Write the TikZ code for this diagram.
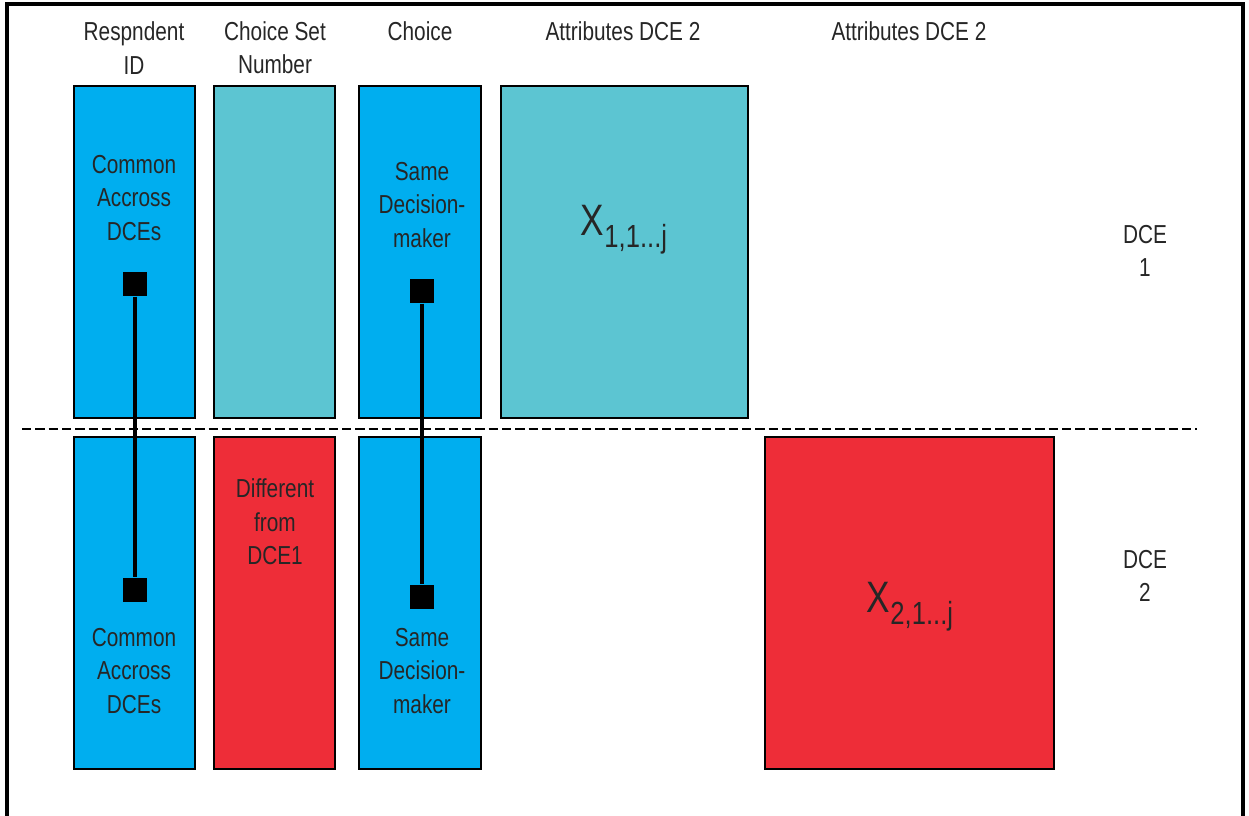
\documentclass[tikz,border=0pt]{standalone}
\usepackage{fontspec}
\setmainfont{Liberation Sans}[FakeStretch=0.8]

\definecolor{dceblue}{RGB}{0,174,239}
\definecolor{dceteal}{RGB}{92,197,210}
\definecolor{dcered}{RGB}{238,45,56}

\tikzset{
    col/.style={draw=black, line width=1.2pt},
    lbl/.style={align=center, inner sep=0pt, font=\fontsize{19.5}{25}\selectfont, text=black!85},
    sq/.style={fill=black, draw=none, minimum size=18.5pt, inner sep=0pt},
    link/.style={line width=2.8pt}
}

\begin{document}
\begin{tikzpicture}[x=0.75pt, y=-0.75pt]
    \useasboundingbox (0,0) rectangle (1249,816);

    % Outer frame, open at the bottom
    \draw[line width=2.6pt] (7,816) -- (7,4) -- (1243,4) -- (1243,816);

    % Column headings
    \node[lbl] (hrid) at (134,48) {Respndent\\ID};
    \node[lbl] (hset) at (275,48) {Choice Set\\Number};
    \node[lbl] (hchoice) at (420,31) {Choice};
    \node[lbl] (hattr1) at (623,31) {Attributes DCE 2};
    \node[lbl] (hattr2) at (909,31) {Attributes DCE 2};

    % DCE 1 (upper row)
    \filldraw[col, fill=dceblue] (74,86) rectangle (195,418);
    \filldraw[col, fill=dceteal] (214,86) rectangle (335,418);
    \filldraw[col, fill=dceblue] (359,86) rectangle (481,418);
    \filldraw[col, fill=dceteal] (501,86) rectangle (748,418);

    \node[lbl] (common1) at (134,198) {Common\\Accross\\DCEs};
    \node[lbl] (same1) at (422,205) {Same\\Decision-\\maker};
    \node[lbl] (x1) at (624,230) {{\fontsize{33}{33}\selectfont X}\raisebox{-9pt}{\fontsize{24}{24}\selectfont 1,1...j}};
    \node[lbl] (dce1) at (1145,251) {DCE\\1};

    % Divider between the two experiments
    \draw[line width=1.6pt, dash pattern=on 7pt off 3pt] (22,429) -- (1197,429);

    % DCE 2 (lower row)
    \filldraw[col, fill=dceblue] (74,437) rectangle (195,769);
    \filldraw[col, fill=dcered] (214,437) rectangle (335,769);
    \filldraw[col, fill=dceblue] (359,437) rectangle (481,769);
    \filldraw[col, fill=dcered] (765,437) rectangle (1054,769);

    \node[lbl] (common2) at (134,671) {Common\\Accross\\DCEs};
    \node[lbl] (diff) at (275,522) {Different\\from\\DCE1};
    \node[lbl] (same2) at (422,671) {Same\\Decision-\\maker};
    \node[lbl] (x2) at (910,607) {{\fontsize{33}{33}\selectfont X}\raisebox{-9pt}{\fontsize{24}{24}\selectfont 2,1...j}};
    \node[lbl] (dce2) at (1145,576) {DCE\\2};

    % Links between the rows
    \node[sq] (rid1) at (135,284) {};
    \node[sq] (rid2) at (135,590) {};
    \node[sq] (dm1) at (422,291) {};
    \node[sq] (dm2) at (422,597) {};
    \draw[link] (rid1) -- (rid2);
    \draw[link] (dm1) -- (dm2);
\end{tikzpicture}
\end{document}
